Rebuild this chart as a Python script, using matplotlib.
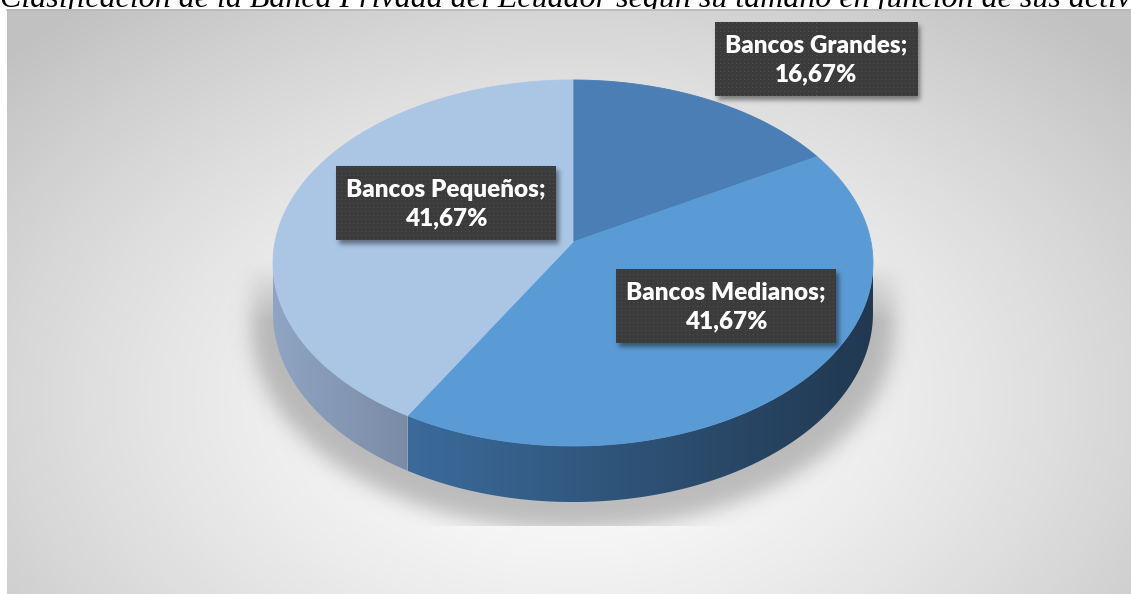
import numpy as np
import matplotlib
matplotlib.use("Agg")
import matplotlib.pyplot as plt
from matplotlib.patches import Polygon
from matplotlib.path import Path

# shares of the private banks by size (percent)
categories = ["Bancos Grandes", "Bancos Medianos", "Bancos Pequeños"]
shares = [16.67, 41.67, 41.67]
title = "Clasificación de la Banca Privada del Ecuador según su tamaño en función de sus activos"

W, H = 1131, 594
# pie geometry (pixels) with a little perspective
CX, CY, R, S, K, DEPTH = 573, 242, 298, 180.6, 0.1147, 49.6
TOP_COLORS = ["#4a7eb4", "#5b9bd5", "#abc6e5"]
SIDE_COLORS = [("#3f6890", "#2e4c6c"), ("#3b6b9b", "#213850"), ("#8fa5c3", "#7a8ba6")]
LABEL_POS = [(816, 59), (726, 306), (446, 203)]


def proj(theta_deg, z=0.0):
    t = np.radians(theta_deg)
    x, y = np.cos(t), np.sin(t)
    d = 1 + K * y
    return CX + R * x / d, CY - (S * y - DEPTH * z) / d


def blur(a, sigma):
    r = int(3 * sigma)
    xs = np.arange(-r, r + 1)
    k = np.exp(-xs ** 2 / (2 * sigma ** 2))
    k /= k.sum()
    a = np.apply_along_axis(lambda m: np.convolve(m, k, mode="same"), 0, a)
    a = np.apply_along_axis(lambda m: np.convolve(m, k, mode="same"), 1, a)
    return a


def hex2rgb(h):
    return np.array([int(h[i:i + 2], 16) for i in (1, 3, 5)]) / 255.0


fig = plt.figure(figsize=(W / 100, H / 100), dpi=100)
ax = fig.add_axes([0, 0, 1, 1])
ax.set_xlim(0, W)
ax.set_ylim(H, 0)
ax.axis("off")

yy, xx = np.mgrid[0:H, 0:W] + 0.5

# title, mostly cut off by the top edge
ax.text(0, 6.5, title, fontfamily="Liberation Serif", style="italic",
        fontsize=23.0, va="baseline", ha="left", color="black", zorder=1)

# chart area: radial grey gradient
x0, y0 = 7, 9
rr = np.sqrt(((xx - 570) / 640) ** 2 + ((yy - 400) / 430) ** 2)
g = np.clip(1.0 - 0.19 * rr ** 1.4, 0.76, 1.0)
bg = np.dstack([g, g, g, np.ones_like(g)])
bg[:, :x0] = [1, 1, 1, 0]
bg[:y0] = [1, 1, 1, 0]
ax.imshow(bg, extent=[0, W, H, 0], zorder=2, interpolation="bilinear")
ax.plot([x0, W], [y0 + 0.5, y0 + 0.5], color="#b9b9b9", lw=1.2, zorder=2.1)

# slice angles, clockwise from twelve o'clock
fr = np.array(shares) / np.sum(shares)
starts = 90 - 360 * np.concatenate([[0], np.cumsum(fr)[:-1]])
ends = starts - 360 * fr

# soft shadow under the pie
sil_a = np.linspace(-6.6, 186.6, 200)
sil_b = np.linspace(186.6, 353.4, 200)
sx = np.concatenate([proj(sil_a)[0], proj(sil_b, 1)[0]])
sy = np.concatenate([proj(sil_a)[1], proj(sil_b, 1)[1]])
sx = CX + (sx - CX) * 1.07
sy = CY + 30 + (sy - CY - 30) * 1.06 + 14
mask = Path(np.column_stack([sx, sy])).contains_points(
    np.column_stack([xx.ravel(), yy.ravel()])).reshape(H, W).astype(float)
sh = blur(mask, 10)
ramp = np.clip((yy - 262) / 60, 0, 1)
sh = sh * ramp * (yy < 526)
shadow = np.zeros((H, W, 4))
shadow[..., :3] = 0.55
shadow[..., 3] = sh * 0.55
ax.imshow(shadow, extent=[0, W, H, 0], zorder=3, interpolation="bilinear")

# side walls with horizontal shading
vis_lo, vis_hi = -173.4, -6.6
for i in range(len(shares)):
    a_hi, a_lo = starts[i], ends[i]
    lo, hi = max(a_lo, vis_lo), min(a_hi, vis_hi)
    if lo >= hi:
        continue
    th = np.linspace(hi, lo, 120)
    tx, ty = proj(th)
    bx, by = proj(th[::-1], 1)
    poly = Polygon(np.column_stack([np.r_[tx, bx], np.r_[ty, by]]),
                   closed=True, fc="none", ec="none", zorder=4)
    ax.add_patch(poly)
    xa, xb = min(tx.min(), bx.min()), max(tx.max(), bx.max())
    c0, c1 = hex2rgb(SIDE_COLORS[i][0]), hex2rgb(SIDE_COLORS[i][1])
    u = np.linspace(0, 1, 256)[:, None]
    grad = (c0 * (1 - u) + c1 * u)[None, :, :]
    im = ax.imshow(grad, extent=[xa, xb, max(by.max(), ty.max()) + 1,
                                 min(ty.min(), by.min()) - 1],
                   aspect="auto", zorder=4, interpolation="bilinear")
    im.set_clip_path(poly)

# top face
for i in range(len(shares)):
    th = np.linspace(starts[i], ends[i], 150)
    px, py = proj(th)
    ax.add_patch(Polygon(np.column_stack([np.r_[CX, px], np.r_[CY, py]]),
                         closed=True, fc=TOP_COLORS[i], ec=TOP_COLORS[i],
                         lw=0.6, zorder=5))

# data labels in dark patterned boxes
fig.canvas.draw()
rend = fig.canvas.get_renderer()
for name, val, (lx, ly) in zip(categories, shares, LABEL_POS):
    txt = f"{name};\n{val:.2f}%".replace(".", ",")
    lab = ax.text(lx, ly + 1, txt, ha="center", va="center", color="white",
                  fontfamily="Lato", fontweight="heavy", fontsize=17.5,
                  linespacing=1.38, zorder=9)
    bb = lab.get_window_extent(rend)
    bw, bh = bb.width + 20, 74
    bx0, by0 = lx - bw / 2, ly - bh / 2
    # box shadow
    m = ((xx > bx0 + 3) & (xx < bx0 + bw + 3) & (yy > by0 + 4) & (yy < by0 + bh + 4)).astype(float)
    bs = np.zeros((H, W, 4))
    bs[..., 3] = blur(m, 2.5) * 0.45
    ax.imshow(bs, extent=[0, W, H, 0], zorder=7, interpolation="bilinear")
    # dotted fill
    pw, ph = int(round(bw)), int(round(bh))
    pat = np.full((ph, pw), 0.235)
    pat[1::4, 1::4] = 0.31
    ax.imshow(np.dstack([pat] * 3), extent=[bx0, bx0 + bw, by0 + bh, by0],
              interpolation="nearest", zorder=8)

fig.savefig("out.png", dpi=100)
